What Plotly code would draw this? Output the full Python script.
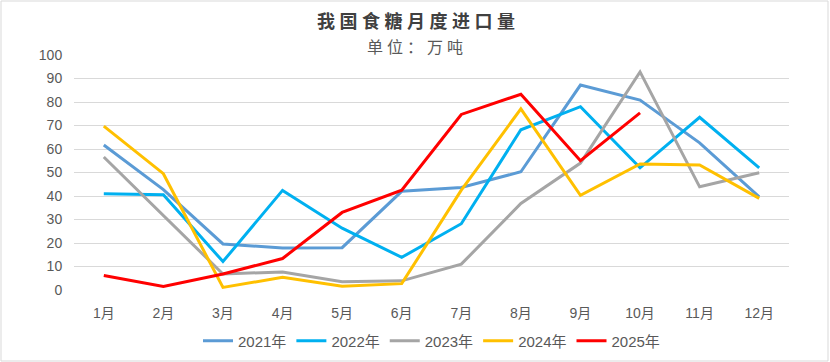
import plotly.graph_objects as go

months = ["1月", "2月", "3月", "4月", "5月", "6月", "7月", "8月", "9月", "10月", "11月", "12月"]
y2021 = [61.7, 42.7, 19.6, 17.9, 18.0, 42.0, 43.6, 50.3, 87.2, 80.8, 62.6, 39.6]
y2022 = [41.0, 40.5, 12.1, 42.4, 26.3, 13.9, 28.2, 68.2, 78.0, 52.0, 73.5, 52.0]
y2023 = [56.6, 31.5, 6.8, 7.7, 3.5, 3.9, 11.0, 36.8, 54.0, 92.8, 43.9, 49.9]
y2024 = [69.7, 49.5, 1.1, 5.4, 1.6, 2.7, 42.5, 77.1, 40.3, 53.6, 53.2, 39.0]
y2025 = [6.2, 1.5, 6.8, 13.4, 33.0, 42.5, 74.7, 83.3, 55.0, 75.4]

title_text = "我国食糖月度进口量"
subtitle_text = "单位：万吨"

series = [
    ("2021年", y2021, "#5B9BD5"),
    ("2022年", y2022, "#00B0F0"),
    ("2023年", y2023, "#A5A5A5"),
    ("2024年", y2024, "#FFC000"),
    ("2025年", y2025, "#FF0000"),
]

fig = go.Figure()
for name, vals, color in series:
    fig.add_trace(go.Scatter(
        x=months[:len(vals)], y=vals, name=name, mode="lines",
        line=dict(color=color, width=3),
    ))

W, H = 830, 362
ml, mr, mt, mb = 74, 41, 55, 72
pw, ph = W - ml - mr, H - mt - mb

def spaced(s):
    return "\u2005".join(s)

fig.update_layout(
    width=W, height=H,
    margin=dict(l=ml, r=mr, t=mt, b=mb, autoexpand=False),
    paper_bgcolor="white", plot_bgcolor="white",
    font=dict(family="Liberation Sans, Noto Sans CJK SC, sans-serif", color="#595959", size=13),
    title=dict(
        text="<b>" + spaced(title_text) + "</b>",
        x=(416) / W, xanchor="center", y=1 - 22 / H, yanchor="middle",
        font=dict(size=18, color="#404040", family="Noto Sans CJK SC"),
    ),
    annotations=[dict(
        text=spaced(subtitle_text), xref="paper", yref="paper",
        x=(415 - ml) / pw, y=1 + (mt - 46) / ph, xanchor="center", yanchor="middle",
        showarrow=False, font=dict(size=16, color="#595959", family="Noto Sans CJK SC"),
    )],
    xaxis=dict(
        type="category", range=[-0.5, 11.5], showgrid=False, zeroline=False,
        showline=False, ticks="outside", ticklen=10, tickcolor="rgba(0,0,0,0)",
        tickfont=dict(size=14, color="#595959"),
    ),
    yaxis=dict(
        range=[0, 100], dtick=10, showgrid=True, gridcolor="#D9D9D9", gridwidth=1,
        zeroline=False, showline=False, ticks="outside", ticklen=8, tickcolor="rgba(0,0,0,0)",
        tickfont=dict(size=14, color="#595959"),
        fixedrange=True,
    ),
    legend=dict(
        orientation="h", x=0.5, xanchor="center", y=-(341 - mt - ph) / ph, yanchor="middle",
        font=dict(size=15, color="#595959"), itemwidth=30, tracegroupgap=0,
    ),
    showlegend=True,
    shapes=[dict(
        type="rect", xref="paper", yref="paper",
        x0=-(ml - 1) / pw, x1=1 + (mr - 2) / pw, y0=-(mb - 1) / ph, y1=1 + (mt - 1) / ph,
        line=dict(color="#D9D9D9", width=1), fillcolor="rgba(0,0,0,0)", layer="below",
    )],
)

fig.write_html("out.html", config={"displayModeBar": False},
               post_script="document.body.style.margin='0';")
